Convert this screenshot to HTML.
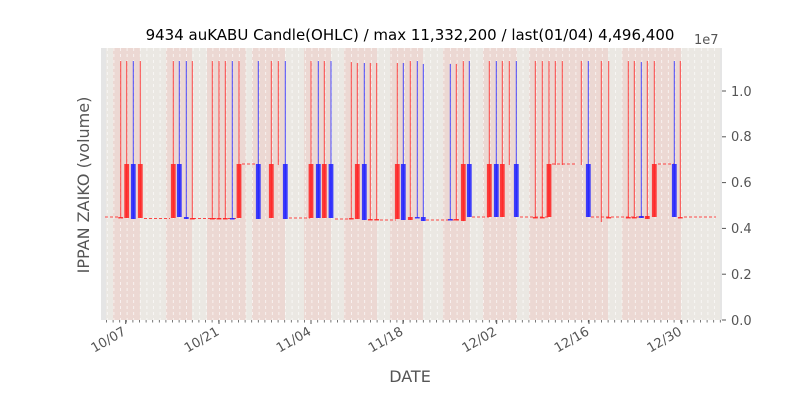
<!DOCTYPE html>
<html><head><meta charset="utf-8"><style>
body{margin:0;background:#fff;}
svg{display:block;font-family:"DejaVu Sans","Liberation Sans",sans-serif;}
</style></head><body>
<svg id="s" width="800" height="400" xmlns="http://www.w3.org/2000/svg">
<rect x="101" y="48" width="621" height="272" fill="#e5e5e5"/>
<g id="bands"></g><g id="grid"></g><g id="c"></g>
<text x="410" y="40" text-anchor="middle" font-size="15" fill="#000">9434 auKABU Candle(OHLC) / max 11,332,200 / last(01/04) 4,496,400</text>
<text x="694" y="44" font-size="13" fill="#555">1e7</text>
<g font-size="13" fill="#555">
<text x="731" y="325">0.0</text><text x="731" y="279">0.2</text><text x="731" y="233">0.4</text>
<text x="731" y="187">0.6</text><text x="731" y="141">0.8</text><text x="731" y="96">1.0</text>
</g>
<g stroke="#555" stroke-width="1">
<line x1="722" x2="726" y1="320" y2="320"/><line x1="722" x2="726" y1="274.2" y2="274.2"/>
<line x1="722" x2="726" y1="228.4" y2="228.4"/><line x1="722" x2="726" y1="182.6" y2="182.6"/>
<line x1="722" x2="726" y1="136.8" y2="136.8"/><line x1="722" x2="726" y1="91" y2="91"/>
</g>
<g id="ticks" stroke="#555"></g>
<g font-size="13" fill="#555" id="xl"></g>
<text x="410" y="382" text-anchor="middle" font-size="16" fill="#555">DATE</text>
<text transform="translate(89,185) rotate(-90)" text-anchor="middle" font-size="16" fill="#555">IPPAN ZAIKO (volume)</text>
</svg>
<script>
var NS="http://www.w3.org/2000/svg";
function el(p,t,a){var e=document.createElementNS(NS,t);for(var k in a)e.setAttribute(k,a[k]);document.getElementById(p).appendChild(e);return e;}
var pink=[[113,140],[166,192],[207,246],[252,285],[304,331],[344,377],[390,423],[443,470],[483,517],[529,608],[622,681]];
el("bands","rect",{x:106,y:48,width:614,height:272,fill:"#ebe8e3"});
pink.forEach(function(b){el("bands","rect",{x:b[0],y:48,width:b[1]-b[0],height:272,fill:"#ecd8d3"});});
for(var x=107.3;x<720;x+=6.6)el("grid","line",{x1:x,x2:x,y1:48,y2:320,stroke:"#fff","stroke-width":0.8,"stroke-dasharray":"3,3","opacity":0.8});
var R="#ff2020",B="#2020ff";
var C=[[120.7,R,61,217,218],[126.7,R,61,164,218],[133.3,B,61,164,219],[140.3,R,61,164,218],
[173.3,R,61,164,218],[179.3,B,61,164,217],[186.3,B,61,217,219],[192.3,R,61,218,219],
[212.3,R,61,218,219],[219,R,61,218,219],[225.3,R,61,218,219],[232.3,B,61,218,219],[239,R,61,164,218],
[258.3,B,61,164,219],[271.3,R,61,164,218],[278.3,R,61,164,164],[285.3,B,61,164,219],
[311,R,61,164,218],[318.3,B,61,164,218],[324.3,R,61,164,218],[331,B,61,164,218],
[351.3,R,62,218,219],[357.3,R,63,164,219],[364.3,B,63,164,220],[370.3,R,63,219,220],[376.7,R,63,219,220],
[397.3,R,63,164,219],[403.3,B,63,164,220],[410.3,R,61,217,220],[417.3,B,61,217,218],[423.3,B,64,217,221],
[450.3,B,64,219,220],[456.3,R,64,219,220],[463.3,R,61,164,221],[469.3,B,61,164,217],
[489.3,R,61,164,217],[496.3,B,61,164,217],[502.3,R,61,164,217],[509.3,R,61,164,164],[516.3,B,61,164,217],
[535.3,R,61,217,218],[542.3,R,61,217,218],[549,R,61,164,217],[555.3,R,61,164,164],[562.3,R,61,164,164],
[581.3,R,61,164,164],[588.3,B,61,164,217],[608.7,R,61,217,218],
[628.3,R,61,217,218],[634.3,R,61,217,218],[641.3,B,62,216,218],[647.3,R,61,216,219],[654.3,R,61,164,217],
[674.3,B,61,164,217],[680.3,R,61,217,218]];
var F=[[105,120,217,R],[144,170,218.5,R],[193,236,218.5,R],[242,256,164,R],[289,310,218,R],[335,351,219,R],[380,396,220,R],[426,461,220,R],[472,489,217,R],[520,548,217,R],[552,575,164,R],[591,650,217,R],[658,674,164,R],[684,716,217,R]];
F.forEach(function(f){el("c","line",{x1:f[0],x2:f[1],y1:f[2],y2:f[2],stroke:f[3],"stroke-width":1,"stroke-dasharray":"3,2",opacity:0.8});});
el("c","line",{x1:601.3,x2:601.3,y1:61,y2:222,stroke:R,"stroke-width":1,opacity:0.8});
C.forEach(function(c){
 el("c","line",{x1:c[0],x2:c[0],y1:c[2],y2:Math.max(c[4],c[3]+1),stroke:c[1],"stroke-width":1,opacity:0.8});
 var h=Math.max(c[4]-c[3],1.5);
 if(c[4]-c[3]>3||c[3]>200) el("c","rect",{x:c[0]-2.4,y:c[3],width:4.8,height:h,fill:c[1],opacity:0.85});
});
for(var x=106.5;x<722;x+=6.6){el("ticks","line",{x1:x,x2:x,y1:320,y2:322.5,"stroke-width":0.8});}
var L=[["10/07",125.7],["10/21",219],["11/04",311],["11/18",403],["12/02",496.7],["12/16",589],["12/30",681.7]];
L.forEach(function(l){el("ticks","line",{x1:l[1],x2:l[1],y1:320,y2:324,"stroke-width":1});
 var t=el("xl","text",{"text-anchor":"end",transform:"translate("+(l[1]+1)+",334) rotate(-30)"});t.textContent=l[0];});
</script>
</body></html>
